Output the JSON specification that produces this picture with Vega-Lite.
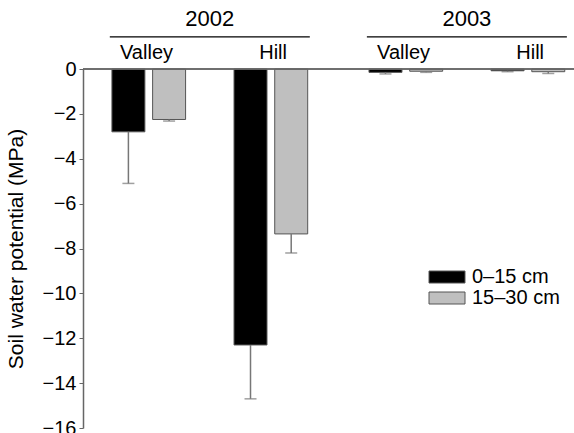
{
  "$schema": "https://vega.github.io/schema/vega-lite/v6.json",
  "width": 491,
  "height": 359,
  "autosize": {"type": "none"},
  "padding": {"left": 83, "top": 69, "right": 0, "bottom": 5},
  "config": {"font": "Liberation Sans", "view": {"stroke": null}, "axis": {"grid": false}},
  "datasets": {
    "soil": [
      {"year": "2002", "site": "Valley", "depth": "0–15 cm", "slot": "Valley 0–15 cm", "value": -2.8, "lower": -5.1},
      {"year": "2002", "site": "Valley", "depth": "15–30 cm", "slot": "Valley 15–30 cm", "value": -2.25, "lower": -2.32},
      {"year": "2002", "site": "Hill", "depth": "0–15 cm", "slot": "Hill 0–15 cm", "value": -12.3, "lower": -14.7},
      {"year": "2002", "site": "Hill", "depth": "15–30 cm", "slot": "Hill 15–30 cm", "value": -7.35, "lower": -8.2},
      {"year": "2003", "site": "Valley", "depth": "0–15 cm", "slot": "Valley 0–15 cm", "value": -0.15, "lower": -0.22},
      {"year": "2003", "site": "Valley", "depth": "15–30 cm", "slot": "Valley 15–30 cm", "value": -0.1, "lower": -0.15},
      {"year": "2003", "site": "Hill", "depth": "0–15 cm", "slot": "Hill 0–15 cm", "value": -0.08, "lower": -0.12},
      {"year": "2003", "site": "Hill", "depth": "15–30 cm", "slot": "Hill 15–30 cm", "value": -0.12, "lower": -0.2}
    ],
    "sites": [
      {"year": "2002", "site": "Valley"},
      {"year": "2002", "site": "Hill"},
      {"year": "2003", "site": "Valley"},
      {"year": "2003", "site": "Hill"}
    ],
    "years": [{"year": "2002"}, {"year": "2003"}]
  },
  "resolve": {"scale": {"xOffset": "independent"}},
  "layer": [
    {
      "data": {"name": "soil"},
      "layer": [
        {
          "mark": {"type": "bar", "stroke": "#555555", "strokeWidth": 1},
          "encoding": {
            "x": {
              "field": "year", "type": "nominal",
              "scale": {"paddingInner": 0.222, "paddingOuter": 0.066, "align": 0.79},
              "axis": {"labels": false, "ticks": false, "title": null, "domainColor": "#666666", "domainWidth": 1.5}
            },
            "xOffset": {
              "field": "slot", "type": "nominal",
              "scale": {"domain": ["Valley 0–15 cm", "Valley 15–30 cm", "gap", "Hill 0–15 cm", "Hill 15–30 cm"], "paddingInner": 0.19, "paddingOuter": 0.052}
            },
            "y": {
              "field": "value", "type": "quantitative",
              "scale": {"domain": [-16, 0], "nice": false},
              "axis": {
                "values": [-16, -14, -12, -10, -8, -6, -4, -2, 0],
                "title": "Soil water potential (MPa)",
                "titleFontSize": 21, "titleFontWeight": "normal", "titleColor": "black", "titlePadding": 16,
                "labelFontSize": 20, "labelColor": "black", "labelPadding": 3,
                "tickSize": 4, "tickColor": "#666666", "domainColor": "#666666", "domainWidth": 1.5
              }
            },
            "color": {
              "field": "depth", "type": "nominal",
              "scale": {"domain": ["0–15 cm", "15–30 cm"], "range": ["#000000", "#bfbfbf"]},
              "legend": {
                "orient": "none", "legendX": 354, "legendY": 198, "title": null,
                "symbolType": "M-3,-1H3V1H-3Z", "symbolSize": 144,
                "symbolStrokeColor": "#555555", "symbolStrokeWidth": 1,
                "labelFontSize": 20, "labelColor": "black", "labelOffset": 15, "rowPadding": 1
              }
            }
          }
        },
        {
          "mark": {"type": "rule", "color": "#777777", "strokeWidth": 1.5},
          "encoding": {
            "x": {"field": "year", "type": "nominal"},
            "xOffset": {"field": "slot", "type": "nominal"},
            "y": {"field": "value", "type": "quantitative"},
            "y2": {"field": "lower"}
          }
        },
        {
          "mark": {"type": "tick", "color": "#777777", "size": 12, "thickness": 1.5, "orient": "horizontal"},
          "encoding": {
            "x": {"field": "year", "type": "nominal"},
            "xOffset": {"field": "slot", "type": "nominal"},
            "y": {"field": "lower", "type": "quantitative"}
          }
        }
      ]
    },
    {
      "data": {"name": "sites"},
      "mark": {"type": "text", "fontSize": 20, "baseline": "middle", "color": "black"},
      "encoding": {
        "x": {"field": "year", "type": "nominal", "axis": null},
        "xOffset": {"field": "site", "type": "nominal", "scale": {"type": "point", "domain": ["Valley", "Hill"], "padding": 0.29}},
        "y": {"datum": 0.71},
        "text": {"field": "site"}
      }
    },
    {
      "data": {"name": "years"},
      "mark": {"type": "text", "fontSize": 22, "baseline": "middle", "color": "black"},
      "encoding": {
        "x": {"field": "year", "type": "nominal", "axis": null},
        "y": {"datum": 2.23},
        "text": {"field": "year"}
      }
    },
    {
      "data": {"name": "years"},
      "mark": {"type": "bar", "color": "black"},
      "encoding": {
        "x": {"field": "year", "type": "nominal", "axis": null},
        "y": {"datum": 1.46},
        "y2": {"datum": 1.4}
      }
    },
    {
      "data": {"name": "years"},
      "mark": {"type": "rule", "color": "#666666", "strokeWidth": 1.5},
      "encoding": {"y": {"datum": 0}}
    }
  ]
}
